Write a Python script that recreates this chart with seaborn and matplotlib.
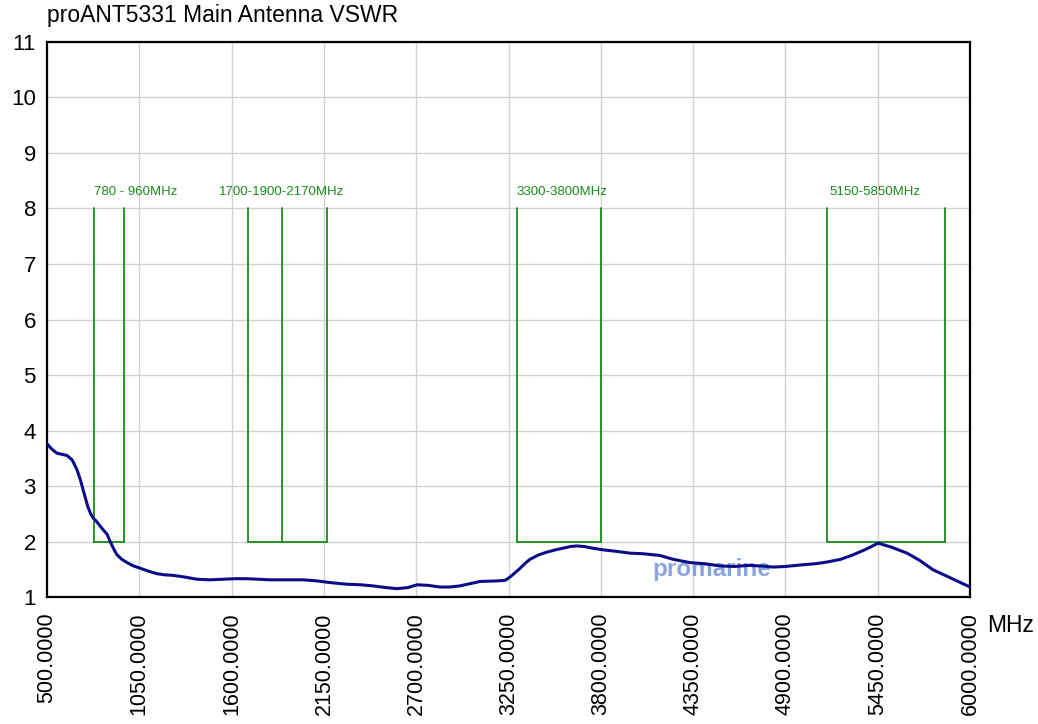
import numpy as np
import pandas as pd
import matplotlib
matplotlib.use('Agg')
import matplotlib.pyplot as plt
import seaborn as sns

freq_mhz = [500, 530, 560, 590, 619, 650, 679, 700, 715, 730, 744, 760, 774, 795,
            816, 838, 858, 872, 887, 902, 917, 945, 977, 1015, 1054, 1100,
            1155, 1200, 1251, 1320, 1394, 1470, 1550, 1620, 1692, 1760, 1829,
            1930, 2026, 2110, 2186, 2288, 2370, 2443, 2520, 2586, 2650,
            2705, 2770, 2842, 2900, 2960, 3020, 3080, 3182, 3230, 3259, 3290,
            3320, 3350, 3378, 3430, 3480, 3530, 3575, 3620, 3658, 3700, 3750,
            3813, 3900, 3974, 4050, 4150, 4230, 4330, 4420, 4510, 4600, 4680,
            4750, 4826, 4900, 5000, 5080, 5148, 5230, 5303, 5380, 5452,
            5530, 5625, 5700, 5780, 5880, 6000]
vswr = [3.76, 3.66, 3.59, 3.57, 3.55, 3.47, 3.29, 3.10, 2.93, 2.77, 2.62, 2.50, 2.43,
        2.36, 2.28, 2.20, 2.13, 2.03, 1.93, 1.84, 1.76, 1.68, 1.62, 1.56, 1.52, 1.47,
        1.42, 1.40, 1.39, 1.36, 1.32, 1.31, 1.32, 1.33, 1.33, 1.32, 1.31,
        1.31, 1.31, 1.29, 1.26, 1.23, 1.22, 1.20, 1.17, 1.15, 1.17,
        1.22, 1.21, 1.18, 1.18, 1.20, 1.24, 1.28, 1.29, 1.30, 1.36, 1.44,
        1.52, 1.61, 1.68, 1.76, 1.81, 1.85, 1.88, 1.91, 1.92, 1.91, 1.88,
        1.85, 1.82, 1.79, 1.78, 1.75, 1.68, 1.62, 1.60, 1.56, 1.55, 1.57,
        1.56, 1.54, 1.55, 1.58, 1.60, 1.63, 1.68, 1.76, 1.86, 1.97,
        1.90, 1.79, 1.66, 1.49, 1.35, 1.18]

# band masks
band_edges = [[780, 960], [1700, 1900, 2170], [3300, 3800], [5150, 5850]]
band_labels = ['780 - 960MHz', '1700-1900-2170MHz', '3300-3800MHz', '5150-5850MHz']
label_x = [780, 1900, 3300, 5160]
label_ha = ['left', 'center', 'left', 'left']
mask_low, mask_high = 2, 8

x_ticks = [500, 1050, 1600, 2150, 2700, 3250, 3800, 4350, 4900, 5450, 6000]
y_ticks = list(range(1, 12))

sns.set_theme(style='white')
plt.rcParams['font.family'] = ['Liberation Sans', 'DejaVu Sans']
plt.rcParams['text.color'] = 'black'

fig = plt.figure(figsize=(10.38, 7.24), dpi=100)
ax = fig.add_axes([0.0453, 0.1754, 0.8892, 0.7666])

df = pd.DataFrame({'MHz': freq_mhz, 'VSWR': vswr})

green = '#1a8a1a'
for edges, lab, lx, ha in zip(band_edges, band_labels, label_x, label_ha):
    for e in edges:
        ax.plot([e, e], [mask_low, mask_high], color=green, lw=1.3, zorder=3)
    ax.plot([edges[0], edges[-1]], [mask_low, mask_low], color=green, lw=1.3, zorder=3)
    ax.text(lx, mask_high + 0.3, lab, color=green, fontsize=9.5, ha=ha, va='center')

ax.text(4460, 1.5, 'promarine', color='#8ca4dc', fontsize=17.5, fontweight='bold',
        ha='center', va='center', zorder=2)

sns.lineplot(data=df, x='MHz', y='VSWR', ax=ax, color='#0c0c8a', lw=2.2, zorder=4)

ax.set_xlim(500, 6000)
ax.set_ylim(1, 11)
ax.set_xticks(x_ticks)
ax.set_xticklabels(['%.4f' % t for t in x_ticks], rotation=90, fontsize=15.5)
ax.set_yticks(y_ticks)
ax.set_yticklabels([str(t) for t in y_ticks], fontsize=16)
ax.tick_params(axis='both', length=0, pad=8, colors='black')
ax.tick_params(axis='x', pad=11)
ax.grid(True, color='#d2d2d2', lw=1.0)
ax.set_axisbelow(True)
for sp in ax.spines.values():
    sp.set_visible(True)
    sp.set_color('black')
    sp.set_linewidth(1.6)
ax.set_xlabel('')
ax.set_ylabel('')

fig.text(0.0453, 0.978, 'proANT5331 Main Antenna VSWR', fontsize=16.5, ha='left', va='center')
fig.text(0.951, 1 - 625 / 724, 'MHz', fontsize=16.5, ha='left', va='center')

fig.savefig('out.png', dpi=100)
